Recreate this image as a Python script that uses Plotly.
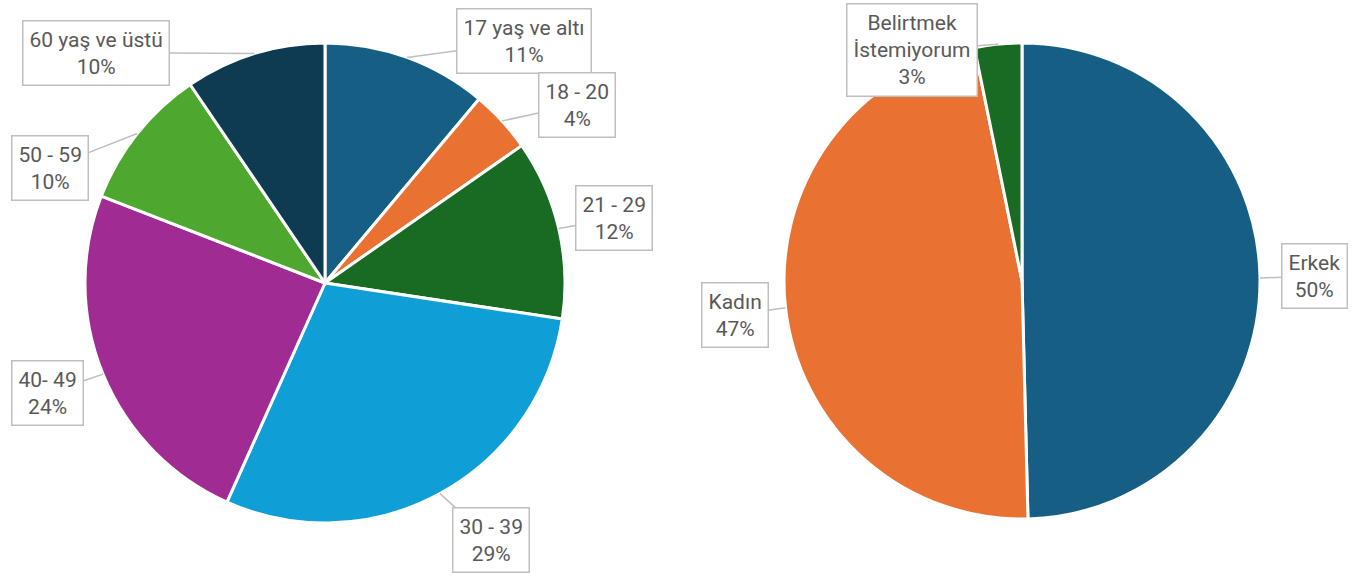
import math
import plotly.graph_objects as go

W, H = 1360, 577

# age groups
age_labels = ['17 yaş ve altı', '18 - 20', '21 - 29', '30 - 39', '40- 49', '50 - 59', '60 yaş ve üstü']
age_values = [11.1, 4.2, 12.1, 29.3, 24.2, 9.6, 9.5]
age_colors = ['#175E85', '#E97132', '#196B24', '#0F9ED5', '#A02B93', '#4EA72E', '#0E3A52']

# gender
gender_labels = ['Erkek', 'Kadın', 'Belirtmek<br>İstemiyorum']
gender_values = [49.6, 47.2, 3.2]
gender_colors = ['#175E85', '#E97132', '#196B24']

# pie placement in pixels: centre x, centre y (from top), radius
left_pie = (325, 283, 240)
right_pie = (1022, 281, 238)

# callout box offsets from the slice edge (pixels)
age_offsets = [(117, -16), (75, -16), (55, -10), (51, 46), (-55, 19), (-87, 34), (-158, -1)]
gender_offsets = [(55, -2), (-51, 7), (-86, 6)]


def domain(p):
    cx, cy, r = p
    return dict(x=[(cx - r) / W, (cx + r) / W], y=[1 - (cy + r) / H, 1 - (cy - r) / H])


def callouts(labels, values, pie, offsets):
    cx, cy, r = pie
    total = sum(values)
    out = []
    acc = 0
    for lab, v, (dx, dy) in zip(labels, values, offsets):
        mid = (acc + v / 2) / total * 2 * math.pi
        acc += v
        px = cx + r * math.sin(mid)
        py = cy - r * math.cos(mid)
        out.append(dict(
            x=px / W, y=1 - py / H, xref='paper', yref='paper',
            ax=dx, ay=dy, showarrow=True, arrowhead=0, arrowwidth=1.5,
            arrowcolor='#BFBFBF', standoff=0,
            text=f'{lab}<br>{round(v / total * 100)}%',
            font=dict(family='Roboto', size=21, color='#595959'),
            bgcolor='white', bordercolor='#BFBFBF', borderwidth=1.5, borderpad=6,
        ))
    return out


fig = go.Figure()
fig.add_trace(go.Pie(
    labels=age_labels, values=age_values, sort=False, direction='clockwise',
    marker=dict(colors=age_colors, line=dict(color='white', width=3)),
    textinfo='none', domain=domain(left_pie), showlegend=False,
))
fig.add_trace(go.Pie(
    labels=gender_labels, values=gender_values, sort=False, direction='clockwise',
    marker=dict(colors=gender_colors, line=dict(color='white', width=3)),
    textinfo='none', domain=domain(right_pie), showlegend=False,
))

fig.update_layout(
    width=W, height=H,
    margin=dict(l=0, r=0, t=0, b=0),
    paper_bgcolor='white',
    annotations=callouts(age_labels, age_values, left_pie, age_offsets)
    + callouts(gender_labels, gender_values, right_pie, gender_offsets),
)

# drop the default page margin so the figure sits at the window's corner
fig.write_html('out.html', config={'displayModeBar': False},
               post_script="document.body.style.margin='0';")
